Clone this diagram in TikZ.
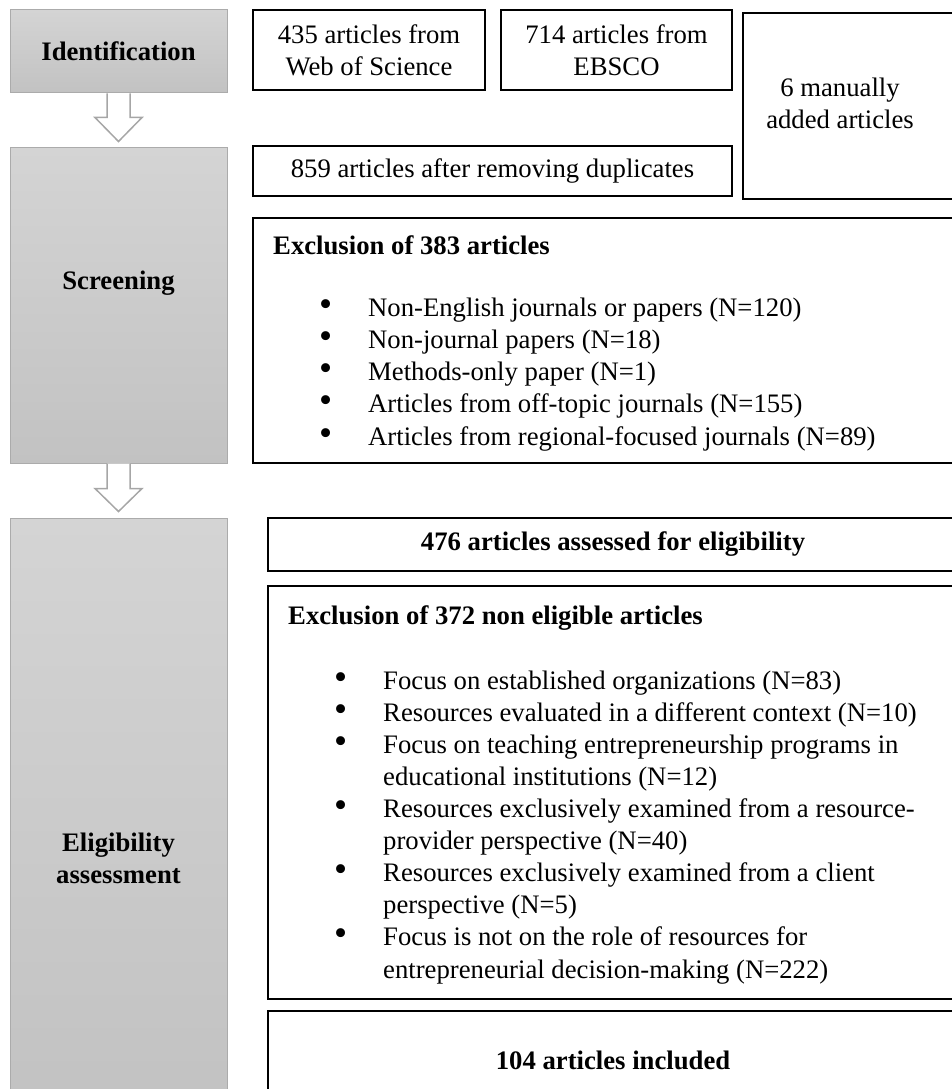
\documentclass[tikz,border=0pt]{standalone}
\usepackage{fontspec}
\setmainfont{Liberation Serif}
\usetikzlibrary{calc}

\definecolor{barlight}{HTML}{D4D4D4}
\definecolor{bardark}{HTML}{C2C2C2}
\definecolor{barline}{HTML}{ABABAB}
\definecolor{arrline}{HTML}{A6A6A6}

% font of the whole diagram
\newcommand{\boxfont}{\fontsize{26.7}{32.1}\selectfont}
% bullet lines of the exclusion lists
\newcommand{\bitem}[1]{\hspace*{46pt}\makebox[49pt][l]{\smash{\scalebox{1.4}{\textbullet}}}#1}
\newcommand{\bcont}[1]{\hspace*{95pt}#1}

\tikzset{
  stagebar/.style={draw=barline, line width=1pt, top color=barlight, bottom color=bardark, inner sep=0pt},
  stagetext/.style={font=\boxfont\bfseries, align=center, inner sep=0pt},
  countbox/.style={draw=black, line width=1.3pt, align=center, inner sep=0pt},
  bigbox/.style={draw=black, line width=2pt, align=center, inner sep=0pt},
  listtext/.style={anchor=base west, align=left, inner sep=0pt},
  downarrow/.style={draw=arrline, line width=1.5pt, fill=white, line join=miter},
}

\begin{document}
\begin{tikzpicture}[x=1pt, y=-1pt, font=\boxfont]
\useasboundingbox (0,0) rectangle (952,1089);

% Stage bars on the left
\node[stagebar, minimum width=217, minimum height=83] (ident) at (118.5,51.5) {};
\node[stagebar, minimum width=217, minimum height=316] (screen) at (118.5,305) {};
\node[stagebar, minimum width=217, minimum height=592] (elig) at (118.5,814) {};
\node[stagetext] (identtxt) at (ident.center) {Identification};
\node[stagetext] (screentxt) at (118.5,283) {Screening};
\node[stagetext] (eligtxt) at (118.5,858) {Eligibility\\assessment};

% Hollow arrows between the stages
\draw[downarrow] ([xshift=-11.5pt]ident.south) -- ($(ident.south)+(-11.5,24)$) -- ($(ident.south)+(-23.5,24)$)
  -- ([yshift=5pt]screen.north) -- ($(ident.south)+(23.5,24)$) -- ($(ident.south)+(11.5,24)$) -- ([xshift=11.5pt]ident.south);
\draw[downarrow] ([xshift=-11.5pt]screen.south) -- ($(screen.south)+(-11.5,25)$) -- ($(screen.south)+(-23.5,25)$)
  -- ([yshift=6pt]elig.north) -- ($(screen.south)+(23.5,25)$) -- ($(screen.south)+(11.5,25)$) -- ([xshift=11.5pt]screen.south);

% Identification
\node[countbox, minimum width=232, minimum height=80] (wos) at (369,50) {435 articles from\\Web of Science};
\node[countbox, minimum width=231, minimum height=80] (ebsco) at (616.5,50) {714 articles from\\EBSCO};
\node[countbox, minimum width=217, minimum height=186] (manual) at (851.5,106) {};
\node[align=center, inner sep=0pt] (manualtxt) at (840,103) {6 manually\\added articles};

% Screening
\node[countbox, minimum width=479, minimum height=50] (dedup) at (492.5,171) {859 articles after removing duplicates};
\node[countbox, minimum width=705, minimum height=245] (excl1) at (605.5,340.5) {};
% list is anchored at the baseline of its last line
\node[listtext] (excl1list) at (273,445) {\textbf{Exclusion of 383 articles}\\[30pt]
\bitem{Non-English journals or papers (N=120)}\\
\bitem{Non-journal papers (N=18)}\\
\bitem{Methods-only paper (N=1)}\\
\bitem{Articles from off-topic journals (N=155)}\\
\bitem{Articles from regional-focused journals (N=89)}};

% Eligibility
\node[bigbox, minimum width=690, minimum height=53, font=\boxfont\bfseries] (assess) at (613,544.5) {476 articles assessed for eligibility};
\node[bigbox, minimum width=690, minimum height=413] (excl2) at (613,792.5) {};
\node[listtext] (excl2list) at (288,978) {\textbf{Exclusion of 372 non eligible articles}\\[33pt]
\bitem{Focus on established organizations (N=83)}\\
\bitem{Resources evaluated in a different context (N=10)}\\
\bitem{Focus on teaching entrepreneurship programs in}\\
\bcont{educational institutions (N=12)}\\
\bitem{Resources exclusively examined from a resource-}\\
\bcont{provider perspective (N=40)}\\
\bitem{Resources exclusively examined from a client}\\
\bcont{perspective (N=5)}\\
\bitem{Focus is not on the role of resources for}\\
\bcont{entrepreneurial decision-making (N=222)}};
\node[bigbox, minimum width=690, minimum height=99, font=\boxfont\bfseries] (incl) at (613,1060.5) {104 articles included};
\end{tikzpicture}
\end{document}
